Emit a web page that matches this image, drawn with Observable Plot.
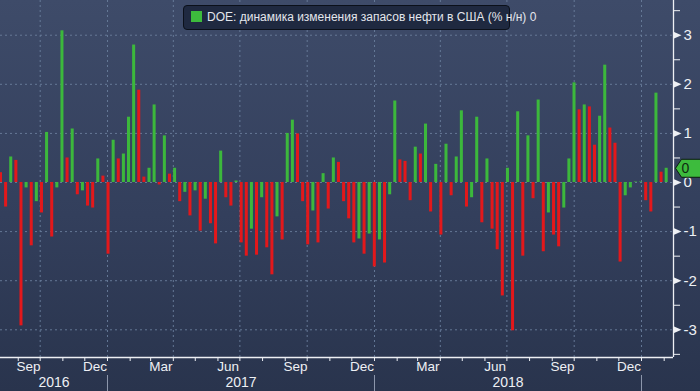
<!DOCTYPE html>
<html><head><meta charset="utf-8">
<script src="https://cdn.jsdelivr.net/npm/d3@7"></script>
<script src="https://cdn.jsdelivr.net/npm/@observablehq/plot@0.6"></script>
<style>
html,body{margin:0;padding:0;background:#2b3651;}
#wrap{position:relative;width:700px;height:391px;background:linear-gradient(to bottom,#3e4b69 0%,#333f5c 55%,#29344d 100%);overflow:hidden;font-family:"Liberation Sans",Arial,sans-serif;}
#legend{position:absolute;left:183px;top:5px;width:325px;height:23px;background:#1f2940;border:1px solid #0b101a;border-radius:4px;color:#e3e6ec;font-size:12px;line-height:23px;white-space:nowrap;box-sizing:content-box;}
#legend .sw{display:inline-block;width:11px;height:11px;background:#3dbb3d;margin:0 5px 0 7px;vertical-align:-1px;}
</style></head>
<body><div id="wrap"></div>
<script>
// ---- data ----
const legendLabel = "DOE: динамика изменения запасов нефти в США (% н/н)";
const firstWeek = "2016-08-05"; // weekly (Friday) periods
const values = [
  0.20,-0.50,0.52,0.45,-2.92,-0.11,-1.29,-0.39,-0.62,1.02,
  -1.11,-0.11,3.09,0.50,1.09,-0.25,-0.17,-0.48,-0.52,0.48,
  0.13,-1.46,0.86,0.48,0.58,1.33,2.80,1.88,0.11,0.29,
  1.58,-0.05,0.95,0.17,0.29,-0.39,-0.20,-0.68,-0.17,-0.99,
  -0.34,-0.84,-1.25,0.64,-0.31,-0.48,0.03,-1.23,-1.50,-0.95,
  -1.48,-0.31,-1.33,-1.88,-0.70,-1.17,1.00,1.27,0.99,-0.39,
  -1.27,-0.58,-1.23,0.18,-0.54,0.50,0.41,-0.39,-0.74,-1.23,
  -1.15,-1.46,-1.05,-1.72,-1.17,-1.64,-0.25,1.66,0.46,0.43,
  -0.37,0.72,0.58,1.19,-0.60,0.37,-1.07,0.78,-0.27,0.52,
  1.46,-0.50,-0.31,1.33,-0.82,0.48,-0.95,-1.37,-2.31,0.29,
  -3.02,1.44,-1.50,0.95,-0.33,1.68,-1.41,-0.62,-1.07,-1.31,
  -0.52,0.48,2.03,1.48,1.58,1.54,0.76,1.35,2.39,1.11,
  0.80,-1.62,-0.27,-0.11,0.01,0.01,-0.37,-0.60,1.82,0.21,
  0.29
];
// g = rise vs previous week, r = fall
const directions =
  "rrgrrgrgrg" + "rggrgrgrrg" + "rrgrgggrrg" + "grgrgrgrgr" +
  "grrgrrgrrg" + "rgrrgrggrr" + "rgrgrgrrrr" + "grgrgrggrr" +
  "rgrgrgrgrg" + "grggrgrrrg" + "rgrgrgrgrr" + "gggrgrrggr" +
  "rrggggrrgrg";
const yTicks = [-3,-2,-1,0,1,2,3];
const yMinorTicks = [-3.5,-2.5,-1.5,-0.5,0.5,1.5,2.5,3.5];
const labelMonths = ["Mar","Jun","Sep","Dec"];
const xDomain = [new Date("2016-08-07T18:00Z"), new Date("2019-02-13T18:00Z")];
const yDomain = [-3.564, 3.707];
const colors = {g: "#3cb83c", r: "#e3181b"};

// ---- build ----
const start = new Date(firstWeek + "T00:00Z");
const data = values.map((v, i) => ({
  date: d3.utcDay.offset(start, 7 * i),
  end: d3.utcDay.offset(start, 7 * i + 7),
  value: v,
  dir: directions[i]
}));
const last = data[data.length - 1];

const monthStarts = d3.utcMonth.range(d3.utcMonth.ceil(xDomain[0]), xDomain[1]);
const quarterStarts = monthStarts.filter(d => d.getUTCMonth() % 3 === 0);
const yearStarts = monthStarts.filter(d => d.getUTCMonth() === 0);
const monthMids = d3.utcMonth.range(d3.utcMonth.floor(xDomain[0]), xDomain[1])
  .map(d => d3.utcDay.offset(d, 14))
  .filter(d => labelMonths.includes(d3.utcFormat("%b")(d)) && d > xDomain[0] && d < xDomain[1]);
const yearCenters = d3.utcYear.range(d3.utcYear.floor(xDomain[0]), xDomain[1]).map(y => {
  const a = Math.max(+y, +xDomain[0]);
  const b = Math.min(+d3.utcYear.offset(y, 1), +xDomain[1]);
  return {c: new Date((a + b) / 2), span: (b - a) / 864e5, y};
}).filter(d => d.span > 100);

const triRight = {draw(ctx) { ctx.moveTo(-4, -3.5); ctx.lineTo(4, 0); ctx.lineTo(-4, 3.5); ctx.closePath(); }};
const tagShape = {draw(ctx) {
  ctx.moveTo(-13, 0); ctx.lineTo(-7, -9); ctx.lineTo(16, -9); ctx.lineTo(16, 9); ctx.lineTo(-7, 9); ctx.closePath();
}};
const axisColor = "#eef0f4";
const gridColor = "#6a7e9c";

const chart = Plot.plot({
  width: 700,
  height: 391,
  marginLeft: 0,
  marginRight: 27,
  marginTop: 0,
  marginBottom: 34,
  style: {background: "transparent", color: axisColor, fontFamily: "'Liberation Sans', Arial, sans-serif"},
  x: {type: "utc", domain: xDomain, axis: null, label: null},
  y: {domain: yDomain, axis: null, label: null},
  marks: [
    Plot.ruleY(yTicks, {stroke: gridColor, strokeDasharray: "2,3", strokeOpacity: 0.9}),
    Plot.ruleX(quarterStarts, {stroke: gridColor, strokeDasharray: "2,3", strokeOpacity: 0.9}),
    Plot.rectY(data, {x1: "date", x2: "end", y1: 0, y2: "value", insetLeft: 1, insetRight: 1.1,
      fill: d => colors[d.dir]}),
    Plot.ruleY([yDomain[0]], {stroke: axisColor, strokeWidth: 1.3}),
    Plot.ruleX([xDomain[1]], {stroke: axisColor, strokeWidth: 1.3}),
    // bottom axis: month ticks, quarter month labels, years, year dividers
    Plot.axisX(monthStarts, {tickSize: 4, tickFormat: () => "", stroke: axisColor, label: null}),
    Plot.axisX(monthMids, {tickSize: 0, tickPadding: 4, tickFormat: d3.utcFormat("%b"), fontSize: 13.5, fill: axisColor, label: null}),
    Plot.axisX(yearCenters.map(d => d.c), {tickSize: 0, tickPadding: 20, tickFormat: d3.utcFormat("%Y"), fontSize: 14, fill: axisColor, label: null}),
    Plot.axisX(yearStarts, {tickSize: 16, dy: 18, tickFormat: () => "", stroke: "#8e98ad", label: null}),
    // right axis
    Plot.axisY(yMinorTicks, {anchor: "right", tickSize: 6, tickFormat: () => "", stroke: axisColor, label: null}),
    Plot.dot(yTicks, {x: () => xDomain[1], y: d => d, symbol: triRight, r: 4, dx: 4, fill: axisColor, stroke: null}),
    Plot.axisY(yTicks, {anchor: "right", tickSize: 0, tickPadding: 10, fontSize: 15, fill: axisColor, label: null,
      tickFormat: d => d < 0 ? "-" + (-d) : String(d)}),
    // last value tag
    Plot.dot([last], {x: () => xDomain[1], y: "value", symbol: tagShape, r: 5, dx: 15, fill: "#3dbb3d", stroke: "#0d1a10", strokeWidth: 1}),
    Plot.text([last], {x: () => xDomain[1], y: "value", text: d => d3.format(".0f")(d.value), dx: 12, fill: "#0e2a10", fontSize: 14})
  ]
});
const wrap = document.getElementById("wrap");
wrap.appendChild(chart);
const legend = document.createElement("div");
legend.id = "legend";
legend.innerHTML = '<span class="sw"></span>';
legend.appendChild(document.createTextNode(legendLabel + " " + d3.format(".0f")(last.value)));
wrap.appendChild(legend);
</script>
</body></html>
